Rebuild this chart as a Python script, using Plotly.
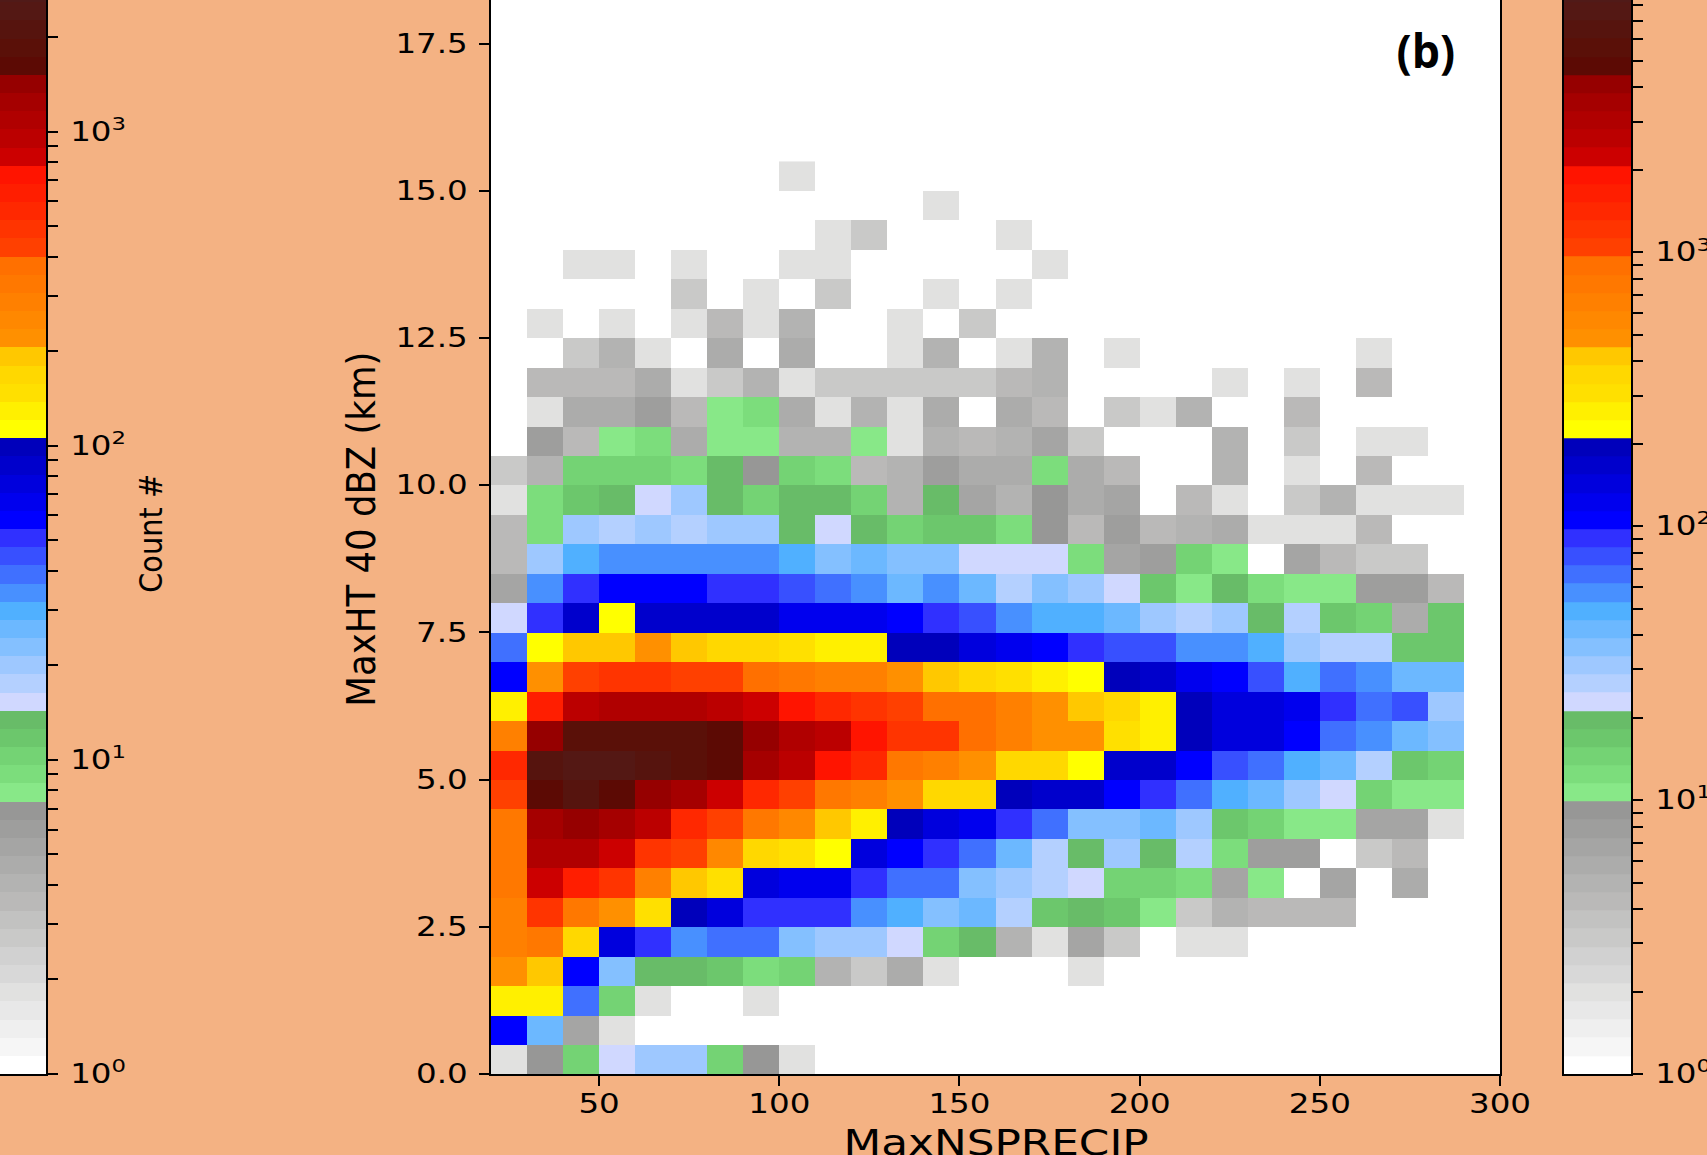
import numpy as np
import plotly.graph_objects as go

W, H = 1707, 1155
PEACH = "#F4B283"
FONT = "DejaVu Sans"
NARROW = "DejaVu Sans Condensed, Open Sans, DejaVu Sans"

# x bins 20..290 every 10, y bins 0..15.5 every 0.5
x_edges = list(range(20, 300, 10))
y_edges = [i * 0.5 for i in range(32)]

# counts per cell, row 0 is 0-0.5 km, trailing empty cells left out
count_rows = [
    [2,9,15,23,32,32,15,9,2],
    [108,43,7,2],
    [271,271,68,15,2,0,0,2],
    [500,430,108,37,20,20,17,12,15,5,3,6,2,0,0,0,2],
    [681,794,368,147,92,58,68,68,37,32,32,23,15,20,5,2,7,3,0,2,2],
    [681,1260,794,500,316,200,147,92,92,92,58,50,37,43,27,17,20,17,11,3,5,4,4,4],
    [794,2320,1710,1260,681,430,316,147,126,126,92,68,68,37,32,27,23,15,15,12,7,11,0,7,0,6],
    [794,3160,3160,2320,1260,1080,580,368,316,232,147,108,92,68,43,27,20,32,20,27,12,8,8,0,3,4],
    [794,3680,4300,3680,2710,1470,1080,794,580,430,271,200,147,126,92,68,37,37,43,32,17,15,11,11,7,7,2],
    [1080,5000,6800,5000,4300,3680,2320,1470,1080,794,681,500,368,368,200,171,171,108,92,68,50,43,32,23,15,11,11],
    [1470,6800,7900,7900,6800,5800,5000,3680,2710,2000,1470,794,681,500,368,368,232,171,171,108,79,68,50,43,27,17,15],
    [681,4300,5800,5800,5800,5800,5000,4300,3160,2710,2000,1260,1260,926,681,500,500,316,271,200,147,147,108,68,58,43,37],
    [271,1710,2710,3160,3160,3160,2710,2320,2000,1470,1260,1080,926,926,681,500,430,368,271,200,147,147,126,92,68,79,32],
    [108,500,1080,1260,1260,1080,1080,926,794,681,681,500,430,368,316,271,232,200,171,126,108,79,50,68,58,43,43],
    [68,232,430,430,500,430,368,368,316,271,271,200,200,147,126,108,92,79,79,58,58,50,32,27,27,17,17],
    [23,92,171,232,171,171,171,171,126,126,126,108,92,79,58,50,50,43,32,27,32,20,27,17,15,6,17],
    [7,58,92,108,108,108,92,92,79,68,58,43,58,43,27,37,32,23,17,11,20,12,11,11,8,8,4],
    [4,32,50,58,58,58,58,58,50,37,43,37,37,23,23,23,12,7,8,15,11,0,7,4,3,3],
    [4,12,32,27,32,27,32,32,20,23,20,15,17,17,12,9,4,8,4,5,6,2,2,2,4],
    [2,12,17,20,23,32,20,15,20,20,15,5,20,7,5,9,6,7,0,4,2,0,3,5,2,2,2],
    [3,5,15,15,15,12,20,9,15,12,4,5,8,6,6,12,6,4,0,0,5,0,2,0,4],
    [0,8,4,11,12,6,11,11,5,5,11,2,5,4,5,7,3,0,0,0,5,0,3,0,2,2],
    [0,2,6,6,8,4,11,12,6,2,5,2,6,0,6,4,0,3,2,5,0,0,4],
    [0,4,4,4,6,2,3,5,2,3,3,3,3,3,4,5,0,0,0,0,2,0,2,0,4],
    [0,0,3,5,2,0,6,0,6,0,0,2,5,0,2,5,0,2,0,0,0,0,0,0,2],
    [0,2,0,2,0,2,4,2,5,0,0,2,0,3],
    [0,0,0,0,0,3,0,2,0,3,0,0,2,0,2],
    [0,0,2,2,0,2,0,0,2,2,0,0,0,0,0,2],
    [0,0,0,0,0,0,0,0,0,2,3,0,0,0,2],
    [0,0,0,0,0,0,0,0,0,0,0,0,2],
    [0,0,0,0,0,0,0,0,2],
]

# 60 colour bands, from the lowest count to the highest
band_colors = [
    "#ffffff","#f6f6f6","#efefef","#e8e8e8","#e1e1e0","#d8d8d8","#d1d1d1","#c9c9c8",
    "#c2c2c1","#bab9b8","#b3b3b2","#acacab","#a5a5a4","#9e9e9d","#979796",
    "#88e888","#7cdd7c","#74d374","#6cc76c","#68bc68",
    "#d0d8ff","#b4d0ff","#9ec8ff","#84c0ff","#6cb8ff","#50b0ff","#4890ff","#4070ff","#3850ff","#3030ff",
    "#0000ff","#0000ee","#0000dd","#0000cc","#0000bb",
    "#ffff00","#fff000","#ffe000","#ffd800","#ffc800",
    "#ff9000","#ff8800","#ff8000","#ff7800","#ff7000",
    "#ff4000","#ff3400","#ff2800","#ff1e00","#ff1400",
    "#cc0000","#bb0000","#b00000","#a50000","#960000",
    "#5c0a04","#5a1008","#56140e","#541814","#501a18",
]
main_vmax = 9530    # top of the panel (b) colour bar
left_vmax = 2950    # top of the cropped neighbour colour bar

x_ticks = [50, 100, 150, 200, 250, 300]
y_ticks = [0.0, 2.5, 5.0, 7.5, 10.0, 12.5, 15.0, 17.5]
y_tick_text = ["0.0", "2.5", "5.0", "7.5", "10.0", "12.5", "15.0", "17.5"]
cbar_major = [1, 10, 100, 1000]
cbar_major_text = ["10<sup>0</sup>", "10<sup>1</sup>", "10<sup>2</sup>", "10<sup>3</sup>"]
cbar_minor = [m * d for d in (1, 10, 100, 1000) for m in range(2, 10)]

n_bands = len(band_colors)
colorscale = []
for i, c in enumerate(band_colors):
    colorscale += [[i / n_bands, c], [(i + 1) / n_bands, c]]

grid = np.full((len(y_edges) - 1, len(x_edges) - 1), np.nan)
for r, row in enumerate(count_rows):
    for c, v in enumerate(row):
        if v > 0:
            grid[r, c] = np.log10(v)

band_mid = [[i + 0.5] for i in range(n_bands)]
main_band_edges = [main_vmax ** (i / n_bands) for i in range(n_bands + 1)]
left_band_edges = [left_vmax ** (i / n_bands) for i in range(n_bands + 1)]

fig = go.Figure()
fig.add_trace(go.Heatmap(x=x_edges, y=y_edges, z=grid, colorscale=colorscale,
                         zmin=0, zmax=np.log10(main_vmax), showscale=False,
                         xaxis="x", yaxis="y", hoverongaps=False))
fig.add_trace(go.Heatmap(x=[0, 1], y=left_band_edges, z=band_mid, colorscale=colorscale,
                         zmin=0, zmax=n_bands, showscale=False, xaxis="x2", yaxis="y2"))
fig.add_trace(go.Heatmap(x=[0, 1], y=main_band_edges, z=band_mid, colorscale=colorscale,
                         zmin=0, zmax=n_bands, showscale=False, xaxis="x3", yaxis="y3"))

BOTTOM = 80.5
PLOT_H = H - BOTTOM
ydom = [0, 1]
tick_font = dict(family=FONT, size=26, color="black")
axis_common = dict(showgrid=False, zeroline=False, showline=True, linecolor="black",
                   linewidth=2, ticks="outside", ticklen=10, tickwidth=1.6,
                   tickcolor="black", tickfont=tick_font, automargin=False)
minor_ticks = dict(tickmode="array", tickvals=cbar_minor, ticks="outside", ticklen=10,
                   tickwidth=1.6, tickcolor="black", showgrid=False)


def paper_y(py):
    return (H - py - BOTTOM) / PLOT_H


fig.update_layout(
    width=W, height=H, autosize=False,
    margin=dict(l=0, r=0, t=0, b=BOTTOM, pad=0, autoexpand=False),
    paper_bgcolor=PEACH, plot_bgcolor="white", showlegend=False,
    xaxis=dict(domain=[491 / W, 1500 / W], range=[20, 300], tickmode="array",
               tickvals=x_ticks, ticktext=[str(v) for v in x_ticks], mirror=True,
               anchor="y", ticklabelstandoff=-4, **axis_common),
    yaxis=dict(domain=ydom, range=[0, PLOT_H / 58.9], tickmode="array",
               tickvals=y_ticks, ticktext=y_tick_text, mirror=True,
               anchor="x", ticklabelstandoff=6, **axis_common),
    xaxis2=dict(domain=[0, 46 / W], range=[0, 1], showticklabels=False, showgrid=False,
                zeroline=False, showline=True, linecolor="black", linewidth=2,
                ticks="", mirror=False, anchor="y2", automargin=False),
    yaxis2=dict(domain=ydom, type="log", range=[0, PLOT_H / 314.3], side="right", anchor="x2",
                tickmode="array", tickvals=cbar_major, ticktext=cbar_major_text,
                ticklabelstandoff=7, minor=minor_ticks, **axis_common),
    xaxis3=dict(domain=[1564 / W, 1631 / W], range=[0, 1], showticklabels=False, showgrid=False,
                zeroline=False, showline=True, linecolor="black", linewidth=2,
                ticks="", mirror=True, anchor="y3", automargin=False),
    yaxis3=dict(domain=ydom, type="log", range=[0, PLOT_H / 274.0], side="right", anchor="x3",
                tickmode="array", tickvals=cbar_major, ticktext=cbar_major_text, mirror=True,
                ticklabelstandoff=7, minor=minor_ticks, **axis_common),
    annotations=[
        dict(text="MaxNSPRECIP", xref="paper", yref="paper", x=996 / W, y=paper_y(1144),
             xanchor="center", yanchor="middle", showarrow=False,
             font=dict(family=FONT, size=35, color="black")),
        dict(text="MaxHT 40 dBZ (km)", xref="paper", yref="paper", x=361 / W, y=paper_y(530),
             xanchor="center", yanchor="middle", textangle=-90, showarrow=False,
             font=dict(family=NARROW, size=39.5, color="black")),
        dict(text="<b>(b)</b>", xref="paper", yref="paper", x=1426 / W, y=paper_y(50),
             xanchor="center", yanchor="middle", showarrow=False,
             font=dict(family="Open Sans", size=47, color="black")),
        dict(text="Count #", xref="paper", yref="paper", x=151 / W, y=paper_y(534),
             xanchor="center", yanchor="middle", textangle=-90, showarrow=False,
             font=dict(family=NARROW, size=32, color="black")),
    ],
)

# The reference text is stretched sideways: widen the real text along its baseline.
post = """
document.body.style.margin='0';document.body.style.overflow='hidden';
function widen(t,f){
  t.setAttribute('textLength',t.getComputedTextLength()*f);
  t.setAttribute('lengthAdjust','spacingAndGlyphs');
}
document.querySelectorAll('.xtick text,.ytick text,.y2tick text,.y3tick text').forEach(function(t){widen(t,1.25);});
document.querySelectorAll('.annotation-text').forEach(function(t){
  if(t.textContent==='MaxNSPRECIP'){widen(t,1.25);}
  if(t.textContent==='(b)'){widen(t,0.95);}
});
"""
fig.write_html("out.html", config={"displayModeBar": False}, post_script=post)
